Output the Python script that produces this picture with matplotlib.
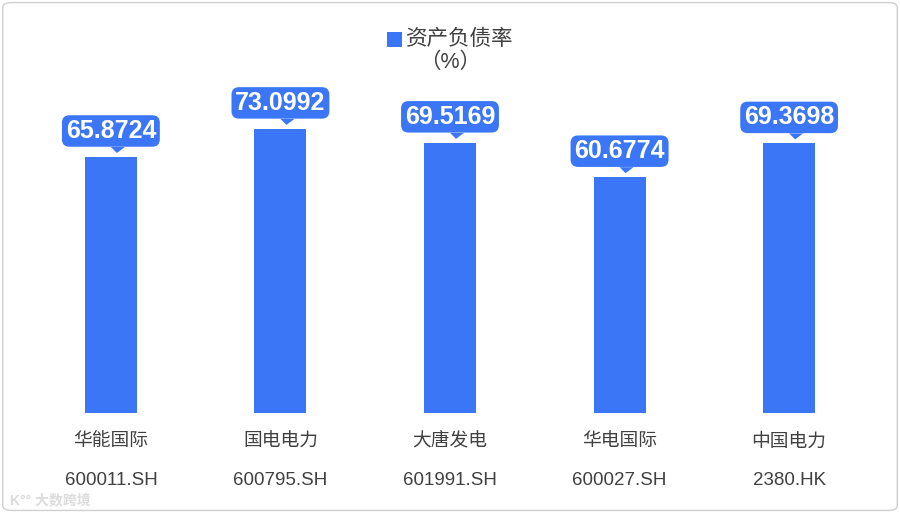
import matplotlib
matplotlib.use("Agg")
import matplotlib.pyplot as plt
import matplotlib.transforms as mtransforms
from matplotlib.patches import Polygon, Rectangle, FancyBboxPatch

plt.rcParams['font.family'] = ['Liberation Sans', 'Noto Sans CJK SC', 'DejaVu Sans']

# données
names = ["华能国际", "国电电力", "大唐发电", "华电国际", "中国电力"]
codes = ["600011.SH", "600795.SH", "601991.SH", "600027.SH", "2380.HK"]
values = [65.8724, 73.0992, 69.5169, 60.6774, 69.3698]

blue = "#3B76F6"
text_col = "#404040"

fig = plt.figure(figsize=(9, 5.13), dpi=100)
ax = fig.add_axes([0.029, 0.195, 0.942, 0.606])

x = list(range(len(values)))
ax.bar(x, values, width=0.307, color=blue, zorder=2)
ax.set_xlim(-0.5, len(values) - 0.5)
ax.set_ylim(0, 80)
ax.axis("off")

# étiquettes des catégories
for i in x:
    ax.annotate(names[i], (i, 0), xytext=(0, -29), textcoords="offset pixels",
                ha="center", va="center", fontsize=13.5, color=text_col)
    ax.annotate(codes[i], (i, 0), xytext=(0, -68), textcoords="offset pixels",
                ha="center", va="center", fontsize=13.5, color=text_col)

# bulles des valeurs
for i, v in zip(x, values):
    ax.annotate(f"{v:.4f}", (i, v), xytext=(0, 26), textcoords="offset pixels",
                ha="center", va="center", fontsize=18, fontweight="bold",
                color="white", zorder=5,
                bbox=dict(boxstyle="round,pad=0.15,rounding_size=0.3",
                          fc=blue, ec="none"))
    tr = mtransforms.Affine2D() + mtransforms.ScaledTranslation(i, v, ax.transData)
    tail = Polygon([(0, 10), (14, 10), (6, 4)], closed=True, fc=blue, ec="none",
                   transform=tr, zorder=4)
    ax.add_artist(tail)

# légende
fig.patches.append(Rectangle((387 / 900, 1 - 47 / 513), 15 / 900, 15 / 513,
                             transform=fig.transFigure, fc=blue, ec="none"))
fig.text(406 / 900, 1 - 39 / 513, "资产负债率", fontsize=15.5, color=text_col,
         ha="left", va="center")
fig.text(419 / 900, 1 - 62 / 513, "（%）", fontsize=15.5, color=text_col,
         ha="left", va="center")

# filigrane
fig.text(10 / 900, 1 - 500 / 513, "K°° 大数跨境", fontsize=10, color="#dcdcdc",
         ha="left", va="center", fontweight="bold")

# cadre
fig.patches.append(FancyBboxPatch((0.003, 0.005), 0.994, 0.99,
                                  boxstyle="round,pad=0,rounding_size=0.01",
                                  transform=fig.transFigure, fc="none",
                                  ec="#d0d0d0", lw=1))

fig.savefig("out.png", dpi=100)
